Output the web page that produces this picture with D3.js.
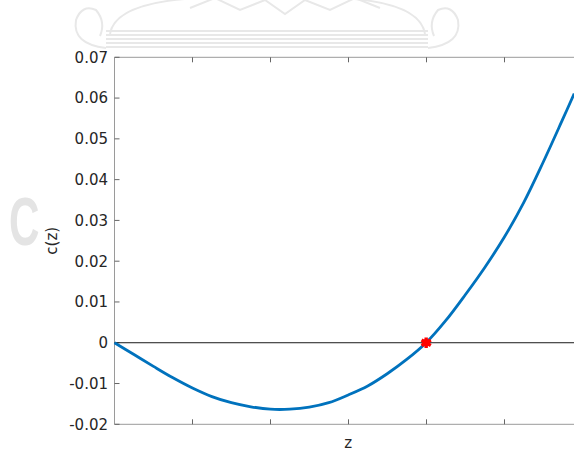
<!DOCTYPE html>
<html>
<head>
<meta charset="utf-8">
<script src="https://cdn.jsdelivr.net/npm/d3@7"></script>
<style>
  html, body { margin: 0; padding: 0; background: #fff; }
  svg { display: block; font-family: "DejaVu Sans", sans-serif; }
</style>
</head>
<body>
<svg id="chart" width="574" height="452"></svg>
<script>
// Sampled curve c(z)
const zValues = [0, 0.25, 0.5, 0.75, 1.0, 1.25, 1.5, 1.75, 2.0, 2.25, 2.5, 2.75, 3.0, 3.25, 3.5, 3.75, 4.0, 4.25, 4.5, 4.75, 5.0, 5.25, 5.5, 5.75, 5.9];
const cValues = [0, -0.0029, -0.0058, -0.0086, -0.0111, -0.0132, -0.0147, -0.0157, -0.0163, -0.0163, -0.0158, -0.0147, -0.0128, -0.0106, -0.0076, -0.0041, 0, 0.0054, 0.0117, 0.0184, 0.0258, 0.0343, 0.0442, 0.0547, 0.0611];
// Root marker
const rootZ = [4.0];
const rootC = [0];
// Axis ticks
const yTicks = [-0.02, -0.01, 0, 0.01, 0.02, 0.03, 0.04, 0.05, 0.06, 0.07];
const yTickLabels = ["-0.02", "-0.01", "0", "0.01", "0.02", "0.03", "0.04", "0.05", "0.06", "0.07"];
const xTicks = [1, 2, 3, 4, 5];
const xLabel = "z";
const yLabel = "c(z)";

const svg = d3.select("#chart");
const W = 574, H = 452;

const pL = 114.5, pT = 57.3, pB = 424.3, pR = 582;
const x = d3.scaleLinear().domain([0, 6]).range([pL, pR]);
const y = d3.scaleLinear().domain([-0.02, 0.07]).range([pB, pT]);

// faint background emblem
const wm = svg.append("g").attr("fill", "none").attr("stroke", "#e8e8e8").attr("stroke-width", 2);
wm.append("path").attr("d", "M110,34 Q115,2 200,-2 L340,-2 Q420,2 425,34");
[31, 35, 39, 43, 47].forEach(v => wm.append("line").attr("x1", 106).attr("x2", 428).attr("y1", v).attr("y2", v));
wm.append("path").attr("d", "M106,48 Q72,44 76,20 Q82,4 96,10 Q106,22 100,36");
wm.append("path").attr("d", "M428,48 Q462,44 458,20 Q452,4 438,10 Q428,22 434,36");
wm.append("path").attr("d", "M190,8 L215,-2 L240,10 L265,0 L285,14 L305,0 L330,10 L355,-2 L380,8");
svg.append("text").attr("transform", "translate(9,245) scale(0.62,1)").attr("font-size", 68).attr("font-weight", "bold")
  .attr("fill", "#e4e4e4").attr("font-family", "Liberation Sans, Arial, sans-serif").text("C");

const plot = svg.append("g");

// axis frame (left, top, bottom)
const axisColor = "#9a9a9a";
plot.append("line").attr("x1", pL).attr("x2", pL).attr("y1", pT).attr("y2", pB).attr("stroke", axisColor);
plot.append("line").attr("x1", pL).attr("x2", W).attr("y1", pT).attr("y2", pT).attr("stroke", axisColor);
plot.append("line").attr("x1", pL).attr("x2", W).attr("y1", pB).attr("y2", pB).attr("stroke", axisColor);

// x ticks (inward, top and bottom, no labels)
xTicks.forEach(t => {
  const px = Math.round(x(t)) + 0.5;
  plot.append("line").attr("x1", px).attr("x2", px).attr("y1", pB).attr("y2", pB - 5).attr("stroke", "#666");
  plot.append("line").attr("x1", px).attr("x2", px).attr("y1", pT).attr("y2", pT + 5).attr("stroke", "#666");
});

// y ticks and labels
yTicks.forEach((t, i) => {
  const py = y(t);
  plot.append("line").attr("x1", pL).attr("x2", pL + 5).attr("y1", py).attr("y2", py).attr("stroke", "#666");
  plot.append("text").attr("x", pL - 6.5).attr("y", py).attr("dy", "0.36em")
    .attr("text-anchor", "end").attr("font-size", 15).attr("fill", "#262626").text(yTickLabels[i]);
});

// zero reference line
plot.append("line").attr("x1", pL).attr("x2", W).attr("y1", y(0)).attr("y2", y(0))
  .attr("stroke", "#1a1a1a").attr("stroke-width", 1);

// curve
const pts = zValues.map((z, i) => [z, cValues[i]]);
const line = d3.line().x(d => x(d[0])).y(d => y(d[1])).curve(d3.curveCatmullRom.alpha(0.5));
plot.append("path").datum(pts).attr("d", line).attr("fill", "none")
  .attr("stroke", "#0072BD").attr("stroke-width", 2.8).attr("stroke-linejoin", "round");

// root marker (asterisk)
const star = d3.symbol().type(d3.symbolAsterisk).size(80);
rootZ.forEach((z, i) => {
  plot.append("path").attr("d", star()).attr("transform", `translate(${x(z)},${y(rootC[i])})`)
    .attr("fill", "none").attr("stroke", "#ff0000").attr("stroke-width", 3.4);
  plot.append("circle").attr("cx", x(z)).attr("cy", y(rootC[i])).attr("r", 3.8).attr("fill", "#ff0000");
});

// axis labels
svg.append("text").attr("x", (pL + pR) / 2).attr("y", 443).attr("dy", "0.36em")
  .attr("text-anchor", "middle").attr("font-size", 15).attr("fill", "#262626").text(xLabel);
svg.append("text").attr("transform", `translate(57,${(pT + pB) / 2}) rotate(-90)`)
  .attr("text-anchor", "middle").attr("font-size", 15).attr("fill", "#262626").text(yLabel);
</script>
</body>
</html>
